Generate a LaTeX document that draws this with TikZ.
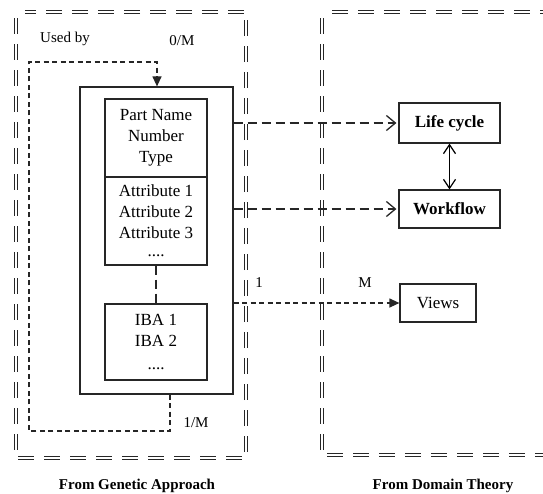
\documentclass[tikz,border=0pt]{standalone}
\usepackage{fontspec}
\setmainfont{Liberation Serif}
\usetikzlibrary{arrows.meta}
\begin{document}
\begin{tikzpicture}[x=1pt,y=-1pt,
  frame/.style={draw=black!85, line width=1.6pt, double=white, double distance=1.4pt, dash pattern=on 16pt off 10pt},
  box/.style={draw=black!85, line width=1.2pt, inner sep=0pt, align=center, font=\fontsize{17}{21}\selectfont},
  lbl/.style={font=\fontsize{15}{18}\selectfont, inner sep=0pt},
  captext/.style={font=\fontsize{15}{18}\selectfont\bfseries, inner sep=0pt},
  bigdash/.style={draw=black!85, line width=1.4pt, dash pattern=on 9pt off 5pt},
  smalldash/.style={draw=black!85, line width=1.2pt, dash pattern=on 5pt off 3.5pt},
  openarr/.style={-{Straight Barb[length=9pt,width=15pt,line width=1.3pt]}},
  fillarr/.style={-{Triangle[length=10pt,width=9pt]}},
  dblarr/.style={line width=1.2pt, {Straight Barb[length=9pt,width=12pt,line width=1.2pt]}-{Straight Barb[length=9pt,width=12pt,line width=1.2pt]}}
]
\useasboundingbox (0,0) rectangle (543,493);
% frames
\draw[frame] (16,18) -- (16,458) -- (246,458) -- (246,12) -- (25,12);
\draw[frame] (322,18) -- (322,455) -- (545,455);
\draw[frame] (332,12) -- (545,12);
% main box and inner boxes
\node[box, minimum width=153pt, minimum height=307pt] (main) at (156.5,240.5) {};
\node[box, minimum width=102pt, minimum height=78pt] (head) at (156,138) {Part Name\\Number\\Type};
\node[box, minimum width=102pt, minimum height=88pt] (attr) at (156,221) {Attribute 1\\Attribute 2\\Attribute 3\\[-3pt]....};
\node[box, minimum width=102pt, minimum height=76pt] (iba) at (156,342) {IBA 1\\IBA 2\\[2pt]....};
\draw[bigdash] (attr.south) -- (iba.north);
% right boxes
\node[box, font=\fontsize{17}{21}\selectfont\bfseries, minimum width=101pt, minimum height=40pt] (life) at (449.5,123) {Life cycle};
\node[box, font=\fontsize{17}{21}\selectfont\bfseries, minimum width=101pt, minimum height=38pt] (work) at (449.5,209) {Workflow};
\node[box, minimum width=76pt, minimum height=38pt] (views) at (438,303) {Views};
% connectors
\draw[bigdash, openarr] (main.east |- life.west) -- ([xshift=-2pt]life.west);
\draw[bigdash, openarr] (main.east |- work.west) -- ([xshift=-2pt]work.west);
\draw[smalldash, fillarr] (main.east |- views.west) -- (views.west);
\draw[dblarr] (life.south) -- (work.north);
% used-by loop
\coordinate (ub1) at (170,431);
\coordinate (ub2) at (29,431);
\coordinate (ub3) at (29,62);
\coordinate (ub4) at (157,62);
\draw[smalldash, fillarr] (main.south -| ub1) -- (ub1) -- (ub2) -- (ub3) -- (ub4) -- (main.north -| ub4);
% labels
\node[lbl] (usedby) at (65,39) {Used by};
\node[lbl] (zm) at (182,41) {0/M};
\node[lbl] (om) at (196,423) {1/M};
\node[lbl] (one) at (259,283) {1};
\node[lbl] (mm) at (365,283) {M};
\node[captext] (cap1) at (137,486) {From Genetic Approach};
\node[captext] (cap2) at (443,486) {From Domain Theory};
\end{tikzpicture}
\end{document}
